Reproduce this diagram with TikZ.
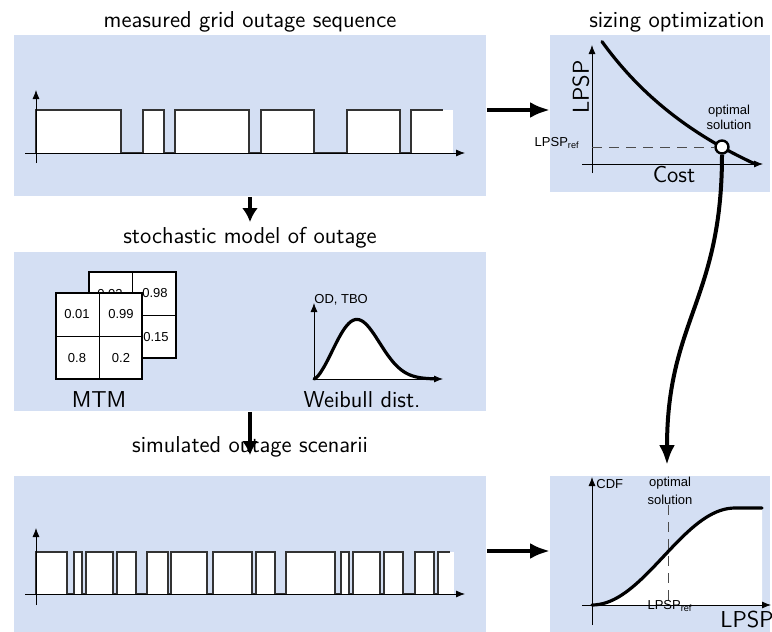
\documentclass[tikz,border=0pt]{standalone}
\usepackage{fontspec}
\newfontfamily\smallsans{Liberation Sans}
\usepackage{tikz}
\usetikzlibrary{arrows.meta}
\definecolor{panelblue}{RGB}{212,223,243}

\tikzset{
panel/.style={fill=panelblue, draw=none, inner sep=0pt, anchor=north west},
title/.style={font=\sffamily\fontsize{11.5}{13}\selectfont, inner sep=0pt},
biglabel/.style={font=\sffamily\fontsize{11.5}{13}\selectfont, inner sep=0pt},
tiny/.style={font=\smallsans\fontsize{6.5}{7.5}\selectfont, inner sep=0pt},
signal/.style={line width=0.65pt, black!80},
curve/.style={line width=1.6pt, line cap=round},
axis/.style={line width=0.4pt, -{Latex[length=4.5pt,width=3.5pt]}},
refline/.style={line width=0.5pt, black!70, dash pattern=on 5pt off 3.5pt},
flow/.style={line width=2pt, -{Latex[length=#1,width=8pt]}},
flow/.default=10pt
}

\begin{document}
\begin{tikzpicture}[x=0.5pt,y=-0.5pt]
\useasboundingbox (0,0) rectangle (772,632);

% the five blue panels
\node[panel, minimum width=236pt, minimum height=80.5pt] (meas) at (14,35) {};
\node[panel, minimum width=236pt, minimum height=79.5pt] (stoch) at (14,252) {};
\node[panel, minimum width=236pt, minimum height=78pt] (sim) at (14,476) {};
\node[panel, minimum width=110pt, minimum height=78.5pt] (sizing) at (550,35) {};
\node[panel, minimum width=110pt, minimum height=78pt] (cdfbox) at (550,476) {};

\node[title, anchor=base] (meastitle) at (250,27) {measured grid outage sequence};
\node[title, anchor=base] (stochtitle) at (250,243) {stochastic model of outage};
\node[title, anchor=base] (simtitle) at (250,452) {simulated outage scenarii};
\node[title, anchor=base] (sizingtitle) at (677,27) {sizing optimization};

% measured sequence
\foreach \a/\b in {36/121, 143/164, 175/249, 261/314, 347/400, 411/453}
  \fill[white] (\a,110) rectangle (\b,153);
\draw[signal] (36,153)
  \foreach \a/\b in {36/121, 143/164, 175/249, 261/314, 347/400}
    { -- (\a,153) -- (\a,110) -- (\b,110) -- (\b,153) }
  -- (411,153) -- (411,110) -- (443,110);
\draw[axis] (25,153) -- (465,153);
\draw[axis] (36,163) -- (36,90);

% Markov transition matrices
\draw[fill=white, line width=1pt] (89,272) rectangle (176,358);
\draw[line width=0.4pt] (132,272) -- (132,358) (89,315) -- (176,315);
\node[tiny] (b11) at (110,294) {0.02};
\node[tiny] (b12) at (155,293) {0.98};
\node[tiny] (b22) at (156,337) {0.15};
\draw[fill=white, line width=1pt] (56,293) rectangle (142,379);
\draw[line width=0.4pt] (99,293) -- (99,379) (56,336) -- (142,336);
\node[tiny] (f11) at (77,314) {0.01};
\node[tiny] (f12) at (121,314) {0.99};
\node[tiny] (f21) at (77,358) {0.8};
\node[tiny] (f22) at (121,358) {0.2};
\node[biglabel] (mtm) at (99,400) {MTM};

% Weibull density
\fill[white] (314,379) -- plot[domain=0.001:2.3, samples=60]
  ({314+52.6*\x}, {379-59*2.5*pow(\x,1.5)*exp(-pow(\x,2.5))}) -- cycle;
\draw[axis] (314,379) -- (443,379);
\draw[axis] (314,379) -- (314,303);
\draw[curve] plot[domain=0.001:2.3, samples=60]
  ({314+52.6*\x}, {379-59*2.5*pow(\x,1.5)*exp(-pow(\x,2.5))});
\node[tiny, anchor=west] (odtbo) at (314,300) {OD, TBO};
\node[biglabel] (weib) at (362,400) {Weibull dist.};

% simulated sequence
\foreach \a/\b in {36/67, 74/82, 86/113, 117/136, 147/168, 171/207, 213/252, 256/275,
  286/335, 341/349, 353/380, 384/403, 415/434, 438/454}
  \fill[white] (\a,552) rectangle (\b,594);
\draw[signal] (36,594)
  \foreach \a/\b in {36/67, 74/82, 86/113, 117/136, 147/168, 171/207, 213/252, 256/275,
    286/335, 341/349, 353/380, 384/403, 415/434}
    { -- (\a,594) -- (\a,552) -- (\b,552) -- (\b,594) }
  -- (438,594) -- (438,552) -- (450,552);
\draw[axis] (25,594) -- (465,594);
\draw[axis] (36,605) -- (36,528);

% sizing optimization
\draw[axis] (582,164) -- (763,164);
\draw[axis] (592,173) -- (592,45);
\node[biglabel, rotate=90] (lpspy) at (581,87) {LPSP};
\node[biglabel] (cost) at (674,175) {Cost};
\draw[curve] plot[domain=602:753, samples=50] (\x, {331-604.8/((\x-393)/100)});
\node[circle, draw, fill=white, line width=1.2pt, minimum size=6.5pt, inner sep=0pt] (opt) at (722,147) {};
\draw[refline] (592,147) -- (opt.west);
\node[tiny, anchor=east] (lpspref) at (580,143) {LPSP\textsubscript{ref}};
\node[tiny, align=center] (optsol) at (729,117) {optimal\\solution};

% distribution of LPSP
\fill[white] (592,605) -- plot[domain=0:1, samples=40]
  ({592+143*\x}, {605-97*(1-cos(180*\x))/2}) -- (762,508) -- (762,605) -- cycle;
\node[tiny, align=center] (optcdf) at (670,491) {optimal\\[1.5pt]solution};
\draw[refline] (optcdf.south -| 668,0) -- (668,605);
\draw[curve] plot[domain=0:1, samples=40]
  ({592+143*\x}, {605-97*(1-cos(180*\x))/2}) -- (762,508);
\draw[axis] (582,605) -- (771,605);
\draw[axis] (592,625) -- (592,477);
\node[tiny, anchor=west] (cdf) at (596,484) {CDF};
\node[tiny, anchor=base] (lpsprefx) at (670,609) {LPSP\textsubscript{ref}};
\node[biglabel] (lpspx) at (747,620) {LPSP};

% connecting arrows
\coordinate (stochin) at (250,222);
\coordinate (simin) at (250,455);
\coordinate (cdfin) at (667,465);
\draw[flow=7pt] (meas.south -| 250,0) -- (stochin);
\draw[flow=7pt] (stoch.south -| 250,0) -- (simin);
\draw[flow] (meas.east |- 0,110) -- (sizing.west |- 0,110);
\draw[flow] (sim.east |- 0,551) -- (cdfbox.west |- 0,551);
\draw[flow] (opt.south) .. controls (722,300) and (667,320) .. (cdfin);
\end{tikzpicture}
\end{document}
